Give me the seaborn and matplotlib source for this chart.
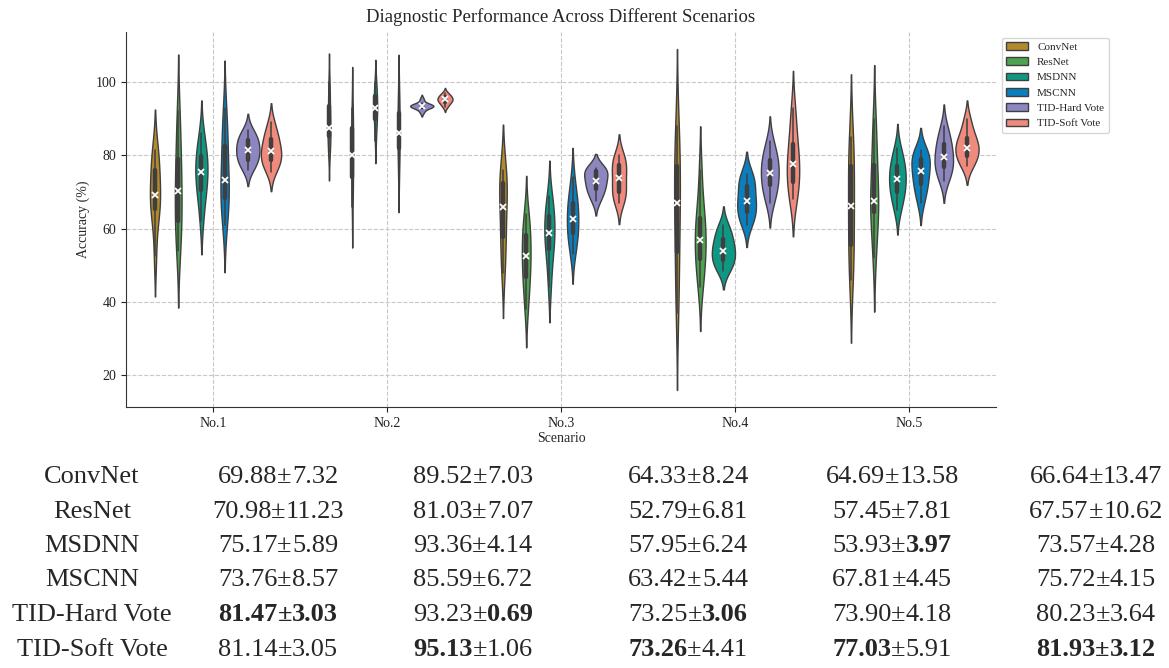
import numpy as np
import pandas as pd
import matplotlib
matplotlib.use("Agg")
import matplotlib.pyplot as plt
import seaborn as sns

# ---------------- data ----------------
scenarios = ["No.1", "No.2", "No.3", "No.4", "No.5"]
models = ["ConvNet", "ResNet", "MSDNN", "MSCNN", "TID-Hard Vote", "TID-Soft Vote"]
colors = ["#B38A2B", "#4FA24F", "#0E9883", "#0B7EBE", "#8D87C1", "#EF8A7D"]

# per-run accuracies (one list per scenario)
convnet_acc = [
    [52.5, 63.0, 64.5, 67.5, 69.0, 69.6, 74.5, 76.5, 80.0, 81.5],
    [81, 83, 85, 86, 87, 88.2, 92, 94, 97, 100],
    [48, 52, 57, 60, 64.5, 67.5, 71, 73, 75, 76],
    [37, 45, 52, 59, 65, 68.8, 74, 78, 83, 88],
    [46, 50, 54, 60, 65, 67.2, 74, 78, 82, 85],
]
resnet_acc = [
    [54, 58, 61, 65, 69, 71.5, 76, 80, 86, 92],
    [66, 71, 73, 77, 79, 81.4, 86, 88, 90, 93],
    [38, 43, 46, 49, 51.5, 53.3, 56, 59, 61, 64],
    [44, 48, 51, 54, 56, 58, 61, 63.5, 67, 76],
    [52, 58, 64, 66, 67, 68.2, 75, 78, 84, 90],
]
msdnn_acc = [
    [62, 68, 70, 72.5, 75, 76.2, 78, 80.5, 82, 86],
    [84, 88, 89.5, 91, 92.5, 93.3, 95, 96.5, 98, 100],
    [44, 50, 54, 56, 58, 59.6, 62, 64, 66, 69],
    [48.5, 50, 51, 52.5, 53.5, 54.5, 56, 57.5, 59, 61],
    [65, 68, 69.5, 71.5, 73, 74, 76, 77.5, 79, 82],
]
mscnn_acc = [
    [61, 65, 68, 70, 72, 74.8, 80, 83.5, 87, 93],
    [74, 78, 81.5, 83.5, 85.5, 86.9, 90, 92, 95, 98],
    [53, 56, 58.5, 60, 61.5, 63.5, 66, 67.5, 69, 74],
    [61, 63, 64, 66, 67, 68.2, 71, 72, 74, 75],
    [67, 70, 71.8, 73.5, 75, 76.6, 78.5, 79.2, 80.5, 81.5],
]
hard_acc = [
    [76, 78, 78.5, 80, 81, 82, 83, 84.5, 85, 87],
    [91.8, 92.8, 93.2, 93.3, 93.5, 93.5, 93.7, 93.8, 94.2, 95.4],
    [67.5, 69.5, 70.5, 71.8, 72.7, 73.5, 75.2, 75.8, 76.3, 76.5],
    [67, 69.5, 71.5, 73, 74.5, 76.1, 78, 79, 81, 84],
    [73, 75, 76.5, 77.5, 79, 80.2, 82, 83.5, 85, 88],
]
soft_acc = [
    [75.5, 77.5, 78.5, 79.5, 80.5, 81.9, 83, 85, 86, 89],
    [93.3, 94, 94.5, 94.9, 95.2, 95.4, 95.7, 96.1, 96.5, 97.0],
    [67, 68.5, 69.5, 71, 73, 74.4, 76.5, 77.5, 79, 80],
    [68, 70, 72, 75, 77, 78.2, 81, 84, 88, 93],
    [77, 78.5, 79.5, 81, 81.8, 82.4, 84, 85, 87, 90],
]

# table of mean ± std (per model, per scenario)
convnet_mean = [69.88, 89.52, 64.33, 64.69, 66.64]
convnet_std = [7.32, 7.03, 8.24, 13.58, 13.47]
resnet_mean = [70.98, 81.03, 52.79, 57.45, 67.57]
resnet_std = [11.23, 7.07, 6.81, 7.81, 10.62]
msdnn_mean = [75.17, 93.36, 57.95, 53.93, 73.57]
msdnn_std = [5.89, 4.14, 6.24, 3.97, 4.28]
mscnn_mean = [73.76, 85.59, 63.42, 67.81, 75.72]
mscnn_std = [8.57, 6.72, 5.44, 4.45, 4.15]
hard_mean = [81.47, 93.23, 73.25, 73.90, 80.23]
hard_std = [3.03, 0.69, 3.06, 4.18, 3.64]
soft_mean = [81.14, 95.13, 73.26, 77.03, 81.93]
soft_std = [3.05, 1.06, 4.41, 5.91, 3.12]

# ---------------- assemble ----------------
acc_lists = [convnet_acc, resnet_acc, msdnn_acc, mscnn_acc, hard_acc, soft_acc]
rows = []
for model, per_sc in zip(models, acc_lists):
    for sc, vals in zip(scenarios, per_sc):
        for v in vals:
            rows.append({"Scenario": sc, "Model": model, "Accuracy": v})
df = pd.DataFrame(rows)

means = np.array([convnet_mean, resnet_mean, msdnn_mean, mscnn_mean, hard_mean, soft_mean])
stds = np.array([convnet_std, resnet_std, msdnn_std, mscnn_std, hard_std, soft_std])

# ---------------- style ----------------
sns.set_style("ticks")
plt.rcParams["font.family"] = ["Liberation Serif", "DejaVu Serif"]
plt.rcParams["axes.edgecolor"] = "#333333"

W, H = 1169, 668
fig = plt.figure(figsize=(W / 100, H / 100), dpi=100)
ax = fig.add_axes([126 / W, 1 - 407 / H, (996 - 126) / W, (407 - 32) / H])

# one call per scenario so that violin areas are normalised within each scenario
for i, sc in enumerate(scenarios):
    sub = df[df["Scenario"] == sc]
    sns.violinplot(
        data=sub, x="Scenario", y="Accuracy", hue="Model",
        order=scenarios, hue_order=models, palette=colors, saturation=1,
        density_norm="area", common_norm=True, cut=2, width=0.8,
        inner="box", inner_kws=dict(box_width=3.2, whis_width=1.1, marker=""),
        linewidth=1.0, linecolor="#3f3f3f", legend=(i == 0), ax=ax,
    )

sns.pointplot(
    data=df, x="Scenario", y="Accuracy", hue="Model",
    order=scenarios, hue_order=models, palette=["white"] * len(models),
    estimator="median", errorbar=None, dodge=0.8 * (len(models) - 1) / len(models),
    markers="x", markersize=4, markeredgewidth=1.3, linestyle="none",
    legend=False, ax=ax, zorder=10,
)

ax.set_axisbelow(True)
ax.grid(True, axis="both", linestyle="--", color="#c8c8c8", linewidth=0.8)
sns.despine(ax=ax)
ax.set_yticks([20, 40, 60, 80, 100])
ax.tick_params(labelsize=10, colors="#222222")
ax.set_title("Diagnostic Performance Across Different Scenarios", fontsize=13.5, pad=7)
ax.set_xlabel("Scenario", fontsize=10, labelpad=2)
ax.set_ylabel("Accuracy (%)", fontsize=10)

sns.move_legend(ax, "upper left", bbox_to_anchor=(1.0, 1.0), title=None,
                frameon=True, fontsize=8, labelspacing=0.5)

# ---------------- table ----------------
label_x = 92
col_x = [278, 473, 688, 892, 1096]
base_y0, row_step = 483, 34.5
fs = 19
best_mean = means.argmax(axis=0)
best_std = stds.argmin(axis=0)
renderer = fig.canvas.get_renderer()
for r, model in enumerate(models):
    y = 1 - (base_y0 + r * row_step) / H
    fig.text(label_x / W, y, model, ha="center", va="baseline", fontsize=fs)
    for c in range(len(scenarios)):
        bm = best_mean[c] == r
        bs = best_std[c] == r
        parts = [(f"{means[r, c]:.2f}", bm), ("\u00b1", bm and bs), (f"{stds[r, c]:.2f}", bs)]
        texts = [fig.text(0, y, s, ha="left", va="baseline", fontsize=fs,
                          fontweight="bold" if b else "normal") for s, b in parts]
        widths = [t.get_window_extent(renderer).width for t in texts]
        x0 = col_x[c] - sum(widths) / 2
        for t, w in zip(texts, widths):
            t.set_x(x0 / W)
            x0 += w

fig.savefig("out.png", dpi=100)
